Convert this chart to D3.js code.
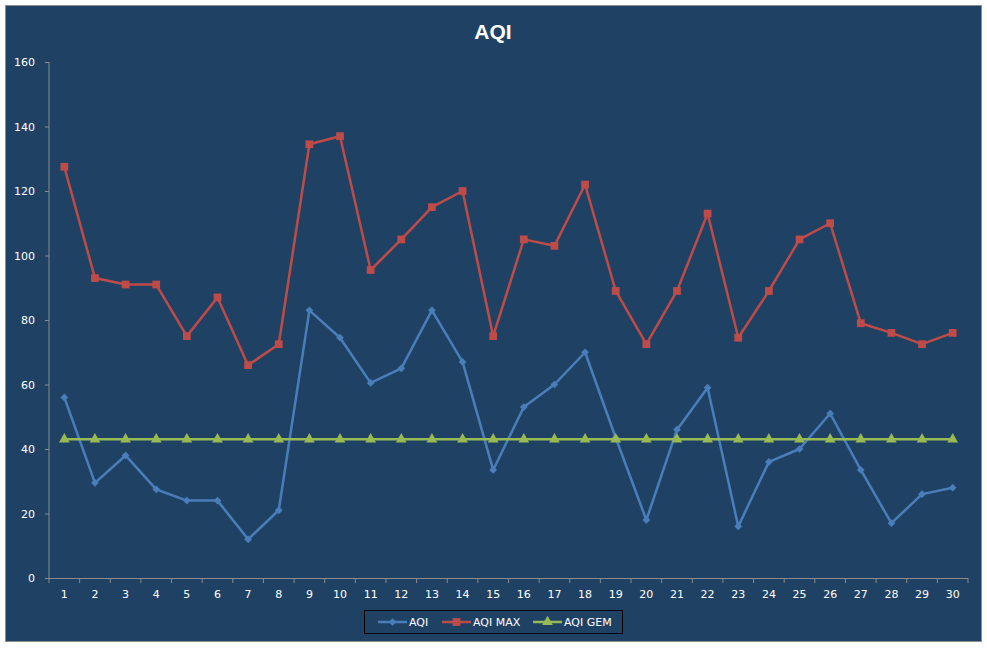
<!DOCTYPE html>
<html>
<head>
<meta charset="utf-8">
<script src="https://cdn.jsdelivr.net/npm/d3@7/dist/d3.min.js"></script>
<style>
html,body{margin:0;padding:0;background:#fff;}
svg{display:block;}
</style>
</head>
<body>
<svg id="chart" width="987" height="648"></svg>
<script>
const categories = d3.range(1, 31).map(String);
const aqi = [56, 29.5, 38, 27.5, 24, 24, 12, 21, 83, 74.5, 60.5, 65, 83, 67, 33.5, 53, 60, 70, 43.5, 18, 46, 59, 16, 36, 40, 51, 33.5, 17, 26, 28];
const aqiMax = [127.5, 93, 91, 91, 75, 87, 66, 72.5, 134.5, 137, 95.5, 105, 115, 120, 75, 105, 103, 122, 89, 72.5, 89, 113, 74.5, 89, 105, 110, 79, 76, 72.5, 76];
const aqiGem = categories.map(() => 43);
const yTicks = [0, 20, 40, 60, 80, 100, 120, 140, 160];
const seriesNames = ["AQI", "AQI MAX", "AQI GEM"];
const colors = ["#4A7EBB", "#BE4B48", "#98B954"];

const svg = d3.select("#chart");
const plot = {left: 49, right: 968, top: 62, bottom: 578};

// frame
svg.append("rect").attr("x", 5.5).attr("y", 5.5).attr("width", 976).attr("height", 636)
  .attr("fill", "#1F4264").attr("stroke", "#8C8C8C").attr("stroke-width", 1);

// title
svg.append("text").attr("x", 493).attr("y", 39).attr("text-anchor", "middle")
  .attr("font-family", "'Liberation Sans', Arial, sans-serif").attr("font-weight", "bold")
  .attr("font-size", 21).attr("fill", "#fff").text("AQI");

const x = d3.scaleBand().domain(categories).range([plot.left, plot.right]).padding(0);
const y = d3.scaleLinear().domain([0, 160]).range([plot.bottom, plot.top]);
const cx = d => x(d) + x.bandwidth() / 2;

const axisColor = "#8A8A8A";
const font = "'DejaVu Sans', Verdana, sans-serif";

// y axis
const yAxis = svg.append("g").attr("transform", `translate(${plot.left},0)`)
  .call(d3.axisLeft(y).tickValues(yTicks).tickSize(4).tickPadding(10));
yAxis.select(".domain").attr("stroke", axisColor).attr("d", `M0,${plot.top}V${plot.bottom}`);
yAxis.selectAll(".tick line").attr("stroke", axisColor);
yAxis.selectAll(".tick text").attr("fill", "#fff").attr("font-family", font).attr("font-size", 11);

// x axis: labels at centers, ticks at band boundaries
const xAxis = svg.append("g").attr("transform", `translate(0,${plot.bottom})`)
  .call(d3.axisBottom(x).tickSize(0).tickPadding(12));
xAxis.select(".domain").remove();
xAxis.selectAll(".tick text").attr("fill", "#fff").attr("font-family", font).attr("font-size", 11);
const xg = svg.append("g");
xg.append("line").attr("x1", plot.left).attr("x2", plot.right).attr("y1", plot.bottom + 0.5).attr("y2", plot.bottom + 0.5)
  .attr("stroke", axisColor);
xg.selectAll("line.tk").data(categories.concat(["end"])).join("line").attr("class", "tk")
  .attr("x1", d => d === "end" ? plot.right : x(d)).attr("x2", d => d === "end" ? plot.right : x(d))
  .attr("y1", plot.bottom).attr("y2", plot.bottom + 5).attr("stroke", axisColor);

const line = d3.line().x((d, i) => cx(categories[i])).y(d => y(d));
const data = [aqi, aqiMax, aqiGem];
const symbols = [d3.symbolSquare, d3.symbolSquare, d3.symbolTriangle];
const sizes = [30, 60, 50];
const rot = [45, 0, 0];

data.forEach((vals, s) => {
  svg.append("path").datum(vals).attr("d", line).attr("fill", "none")
    .attr("stroke", colors[s]).attr("stroke-width", 2.5).attr("stroke-linejoin", "round");
  svg.append("g").selectAll("path").data(vals).join("path")
    .attr("transform", (d, i) => `translate(${cx(categories[i])},${y(d)}) rotate(${rot[s]})`)
    .attr("d", d3.symbol().type(symbols[s]).size(sizes[s]))
    .attr("fill", colors[s]);
});

// legend
const lg = svg.append("g");
lg.append("rect").attr("x", 364.5).attr("y", 610.5).attr("width", 258).attr("height", 23)
  .attr("fill", "none").attr("stroke", "#000").attr("stroke-width", 1);
const legX = [378, 442, 533];
seriesNames.forEach((n, s) => {
  const g = lg.append("g").attr("transform", `translate(${legX[s]},622)`);
  g.append("line").attr("x1", 0).attr("x2", 29).attr("stroke", colors[s]).attr("stroke-width", 2.5);
  g.append("path").attr("transform", `translate(14.5,0) rotate(${rot[s]})`)
    .attr("d", d3.symbol().type(symbols[s]).size(sizes[s])).attr("fill", colors[s]);
  g.append("text").attr("x", 31).attr("y", 4).attr("fill", "#fff")
    .attr("font-family", font).attr("font-size", 11).text(n);
});
</script>
</body>
</html>
